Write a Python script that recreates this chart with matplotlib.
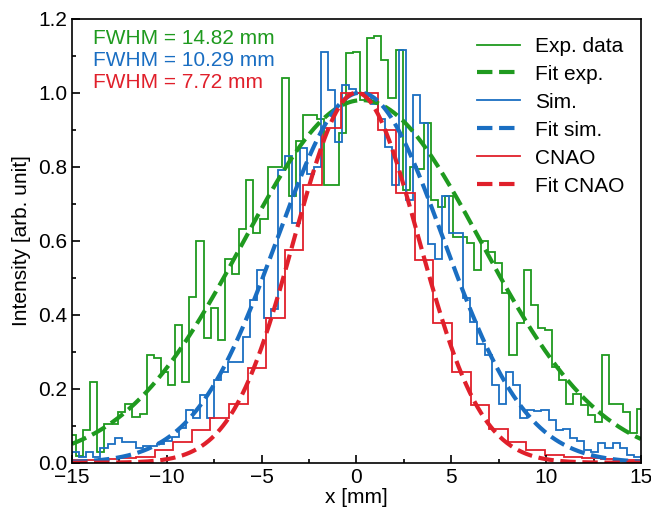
import numpy as np
import matplotlib
matplotlib.use("Agg")
import matplotlib.pyplot as plt
from matplotlib.ticker import MultipleLocator

# ---------------- data ----------------
# Experimental data histogram (bin width 0.375 mm)
exp_start, exp_width = -15.1875, 0.375
exp_vals = [0.075, 0.017, 0.088, 0.219, 0.029, 0.106, 0.106, 0.138, 0.16, 0.124,
            0.133, 0.291, 0.282, 0.246, 0.21, 0.372, 0.219, 0.449, 0.60, 0.336,
            0.417, 0.331, 0.55, 0.51, 0.633, 0.764, 0.62, 0.66, 0.80, 0.80,
            1.04, 0.72, 0.87, 0.94, 0.94, 0.93, 0.75, 0.75, 0.89, 1.107,
            1.11, 0.98, 1.147, 1.154, 1.088, 0.985, 1.115, 0.737, 0.80, 0.795,
            0.917, 0.71, 0.69, 0.72, 0.611, 0.611, 0.593, 0.52, 0.60, 0.57,
            0.539, 0.458, 0.29, 0.377, 0.52, 0.426, 0.363, 0.358, 0.259, 0.223,
            0.16, 0.187, 0.156, 0.129, 0.111, 0.29, 0.16, 0.16, 0.138, 0.08,
            0.145]

# Simulation histogram (bin width 0.375 mm)
sim_start, sim_width = -15.0, 0.375
sim_vals = [0.03, 0.015, 0.03, 0.015, 0.04, 0.05, 0.066, 0.057, 0.057, 0.04,
            0.045, 0.045, 0.05, 0.06, 0.07, 0.093, 0.142, 0.12, 0.183, 0.12,
            0.224, 0.245, 0.273, 0.273, 0.34, 0.44, 0.52, 0.39, 0.415, 0.79,
            0.83, 0.647, 0.85, 0.78, 0.80, 1.11, 1.007, 0.868, 1.02, 1.01,
            1.0, 0.99, 0.97, 0.93, 0.854, 0.75, 1.115, 0.71, 0.993, 0.917,
            0.59, 0.55, 0.72, 0.62, 0.62, 0.445, 0.38, 0.32, 0.29, 0.21,
            0.16, 0.246, 0.21, 0.12, 0.142, 0.14, 0.142, 0.115, 0.088, 0.09,
            0.066, 0.06, 0.035, 0.03, 0.052, 0.04, 0.052, 0.04, 0.02, 0.015]

# CNAO histogram (bin width ~0.98 mm)
cnao_start, cnao_width = -15.54, 0.98
cnao_vals = [0.008, 0.008, 0.01, 0.012, 0.016, 0.034, 0.057, 0.088, 0.12, 0.16,
             0.255, 0.39, 0.575, 0.75, 0.905, 1.0, 1.0, 0.90, 0.728, 0.548,
             0.377, 0.246, 0.155, 0.092, 0.055, 0.035, 0.022, 0.016, 0.012, 0.01,
             0.008, 0.008]

# Gaussian fit parameters (amplitude, centre [mm], FWHM [mm])
fit_exp = (0.98, 0.3, 14.82)
fit_sim = (1.0, 0.2, 10.29)
fit_cnao = (1.0, 0.0, 7.72)

labels = ["Exp. data", "Fit exp.", "Sim.", "Fit sim.", "CNAO", "Fit CNAO"]
fwhm_texts = ["FWHM = 14.82 mm", "FWHM = 10.29 mm", "FWHM = 7.72 mm"]

c_green = "#1f9a1f"
c_blue = "#1a6ec2"
c_red = "#e0202b"

# ---------------- plot ----------------
plt.rcParams["font.family"] = ["Liberation Sans", "DejaVu Sans"]
fig = plt.figure(figsize=(6.51, 5.13), dpi=100)
ax = fig.add_axes([0.1106, 0.098, 0.8740, 0.8655])


def edges(start, width, n):
    return start + width * np.arange(n + 1)


def gauss(x, p):
    a, mu, fwhm = p
    s = fwhm / (2.0 * np.sqrt(2.0 * np.log(2.0)))
    return a * np.exp(-(x - mu) ** 2 / (2 * s ** 2))


xf = np.linspace(-15, 15, 600)

ax.stairs(exp_vals, edges(exp_start, exp_width, len(exp_vals)),
          color=c_green, lw=1.3, label=labels[0])
ax.plot(xf, gauss(xf, fit_exp), "--", color=c_green, lw=3, label=labels[1])
ax.stairs(sim_vals, edges(sim_start, sim_width, len(sim_vals)),
          color=c_blue, lw=1.3, label=labels[2])
ax.plot(xf, gauss(xf, fit_sim), "--", color=c_blue, lw=3, label=labels[3])
ax.stairs(cnao_vals, edges(cnao_start, cnao_width, len(cnao_vals)),
          color=c_red, lw=1.3, label=labels[4])
ax.plot(xf, gauss(xf, fit_cnao), "--", color=c_red, lw=3, label=labels[5])

ax.set_xlim(-15, 15)
ax.set_ylim(0, 1.2)
ax.xaxis.set_major_locator(MultipleLocator(5))
ax.xaxis.set_minor_locator(MultipleLocator(2.5))
ax.yaxis.set_major_locator(MultipleLocator(0.2))
ax.yaxis.set_minor_locator(MultipleLocator(0.1))
ax.tick_params(which="both", direction="in", top=False, right=False,
               labelsize=15, width=1.2)
ax.tick_params(which="major", length=6)
ax.tick_params(which="minor", length=3)
for sp in ax.spines.values():
    sp.set_linewidth(1.2)

ax.set_xlabel("x [mm]", fontsize=15, labelpad=1)
ax.set_ylabel("Intensity [arb. unit]", fontsize=15, labelpad=5)

for t, c, y in zip(fwhm_texts, [c_green, c_blue, c_red], [0.9565, 0.907, 0.857]):
    ax.text(0.037, y, t, color=c, fontsize=15, ha="left", va="center",
            transform=ax.transAxes)

ax.legend(loc="upper right", bbox_to_anchor=(0.985, 0.978), frameon=False,
          fontsize=15, handlelength=2.05, handletextpad=0.7, labelspacing=0.43,
          borderaxespad=0.0)

fig.savefig("out.png", dpi=100)
